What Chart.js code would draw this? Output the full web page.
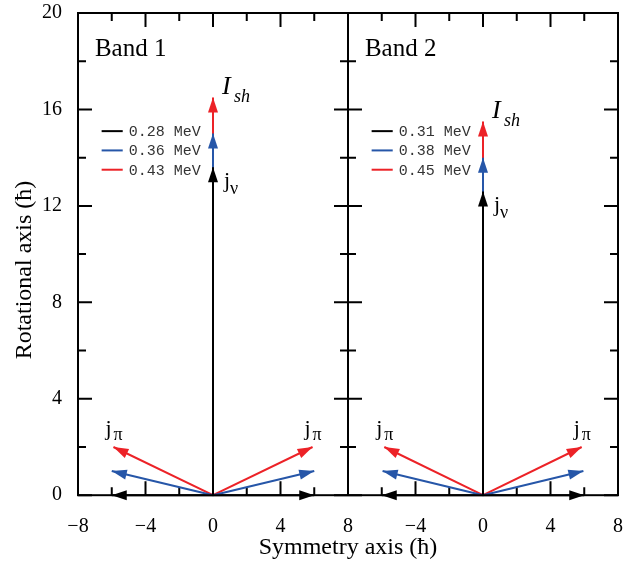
<!DOCTYPE html>
<html>
<head>
<meta charset="utf-8">
<script src="https://cdn.jsdelivr.net/npm/chart.js@4"></script>
<style>
html, body { margin: 0; padding: 0; background: #fff; }
#wrap { width: 638px; height: 565px; }
</style>
</head>
<body>
<div id="wrap"><canvas id="vectors"></canvas></div>
<script>
// values (units of hbar)
const bands = ['Band 1', 'Band 2'];
const panelShift = [0, 16];           // right panel sits on x = 8..24 of the shared axis
const energies1 = ['0.28 MeV', '0.36 MeV', '0.43 MeV'];
const energies2 = ['0.31 MeV', '0.38 MeV', '0.45 MeV'];
const jNu1 = [13.6, 15.0, 16.5];
const jNu2 = [12.6, 14.0, 15.5];
const jPiX1 = [6.0, 6.0, 5.9];
const jPiY1 = [0, 1.0, 2.0];
const jPiX2 = [6.0, 5.95, 5.85];
const jPiY2 = [0, 1.0, 2.0];
const colors = ['#000000', '#2656a8', '#ec2227'];

const serif = "'Liberation Serif', 'Times New Roman', serif";
const energies = [energies1, energies2];
const jNu = [jNu1, jNu2];
const jPiX = [jPiX1, jPiX2];
const jPiY = [jPiY1, jPiY2];

function vector(x0, x1, y1, color, tag) {
    return {
        data: [{ x: x0, y: 0 }, { x: x1, y: y1 }],
        borderColor: color,
        backgroundColor: color,
        borderWidth: 2,
        pointRadius: 0,
        showLine: true,
        clip: false,
        tag: tag
    };
}

const datasets = [];
bands.forEach((band, b) => {
    const s = panelShift[b];
    for (let i = 0; i < 3; i++) {
        datasets.push(vector(s, s, jNu[b][i], colors[i], b + '-nu-' + i));
        datasets.push(vector(s, s - jPiX[b][i], jPiY[b][i], colors[i], b + '-pl-' + i));
        datasets.push(vector(s, s + jPiX[b][i], jPiY[b][i], colors[i], b + '-pr-' + i));
    }
});

function fmt(v) {
    return v < 0 ? '\u2212' + Math.abs(v) : String(v);
}

// arrow heads, drawn per dataset so the stacking order is kept
const arrowPlugin = {
    id: 'arrows',
    afterDatasetDraw(chart, args) {
        const pts = args.meta.data;
        if (pts.length < 2) return;
        const p0 = pts[0], p1 = pts[1];
        const ang = Math.atan2(p1.y - p0.y, p1.x - p0.x);
        const len = 15, half = 5;
        const ctx = chart.ctx;
        ctx.save();
        ctx.fillStyle = chart.data.datasets[args.index].borderColor;
        ctx.translate(p1.x, p1.y);
        ctx.rotate(ang);
        ctx.beginPath();
        ctx.moveTo(0, 0);
        ctx.lineTo(-len, -half);
        ctx.lineTo(-len, half);
        ctx.closePath();
        ctx.fill();
        ctx.restore();
    }
};

// box, divider and inward ticks on every side
const framePlugin = {
    id: 'frame',
    beforeDatasetsDraw(chart) {
        const { ctx, chartArea: a, scales: { x, y } } = chart;
        const mid = x.getPixelForValue(8);
        ctx.save();
        ctx.strokeStyle = '#000';
        ctx.lineWidth = 2;
        ctx.beginPath();
        x.ticks.forEach(t => {
            const px = x.getPixelForValue(t.value);
            const l = t.value % 4 === 0 ? 14 : 8;
            ctx.moveTo(px, a.bottom); ctx.lineTo(px, a.bottom - l);
            ctx.moveTo(px, a.top); ctx.lineTo(px, a.top + l);
        });
        y.ticks.forEach(t => {
            const py = y.getPixelForValue(t.value);
            const l = t.value % 4 === 0 ? 14 : 8;
            ctx.moveTo(a.left, py); ctx.lineTo(a.left + l, py);
            ctx.moveTo(a.right, py); ctx.lineTo(a.right - l, py);
            ctx.moveTo(mid - l, py); ctx.lineTo(mid + l, py);
        });
        ctx.moveTo(mid, a.top); ctx.lineTo(mid, a.bottom);
        ctx.stroke();
        ctx.strokeRect(a.left, a.top, a.width, a.height);
        ctx.restore();
    }
};

// panel labels, vector names, legends and the y title
const labelPlugin = {
    id: 'labels',
    afterDraw(chart) {
        const { ctx, chartArea: a, scales: { x, y } } = chart;
        ctx.save();
        ctx.fillStyle = '#000';
        ctx.textBaseline = 'alphabetic';

        ctx.save();
        ctx.translate(25, 270);
        ctx.rotate(-Math.PI / 2);
        ctx.textAlign = 'center';
        ctx.textBaseline = 'middle';
        ctx.font = '24px ' + serif;
        ctx.fillText('Rotational axis (\u0127)', 0, 0);
        ctx.restore();

        bands.forEach((band, b) => {
            const s = panelShift[b];
            ctx.textAlign = 'left';
            ctx.textBaseline = 'middle';
            ctx.font = '25px ' + serif;
            ctx.fillText(band, x.getPixelForValue(s - 7.0), y.getPixelForValue(18.5));

            ctx.textBaseline = 'alphabetic';
            // I_sh at the top of the red vector
            const tx = x.getPixelForValue(s);
            const tIsh = y.getPixelForValue(jNu[b][2]);
            ctx.font = 'italic 26px ' + serif;
            ctx.fillText('I', tx + 9, tIsh - 3);
            ctx.font = 'italic 18px ' + serif;
            ctx.fillText('sh', tx + 21, tIsh + 5);

            // j_nu at the top of the black vector
            const tNu = y.getPixelForValue(jNu[b][0]);
            ctx.font = '22px ' + serif;
            ctx.fillText('j', tx + 11, tNu + 20);
            ctx.font = '18px ' + serif;
            ctx.fillText('\u03bd', tx + 17, tNu + 27);

            // j_pi above both red vectors
            [-1, 1].forEach(sg => {
                const px = x.getPixelForValue(s + sg * jPiX[b][2]);
                const py = y.getPixelForValue(jPiY[b][2]);
                ctx.font = '22px ' + serif;
                ctx.fillText('j', px - 8, py - 12);
                ctx.font = '18px ' + serif;
                ctx.fillText('\u03c0', px, py - 7);
            });

            // legend
            ctx.font = '15px "Liberation Mono", monospace';
            ctx.textBaseline = 'middle';
            ctx.lineWidth = 2;
            const rows = [15.1, 14.3, 13.5];
            energies[b].forEach((e, i) => {
                const ry = y.getPixelForValue(rows[i]);
                ctx.strokeStyle = colors[i];
                ctx.beginPath();
                ctx.moveTo(x.getPixelForValue(s - 6.6), ry);
                ctx.lineTo(x.getPixelForValue(s - 5.35), ry);
                ctx.stroke();
                ctx.fillStyle = '#333';
                ctx.fillText(e, x.getPixelForValue(s - 5.0), ry + 1);
                ctx.fillStyle = '#000';
            });
        });
        ctx.restore();
    }
};

new Chart(document.getElementById('vectors'), {
    type: 'scatter',
    data: { datasets: datasets },
    options: {
        responsive: true,
        maintainAspectRatio: false,
        animation: false,
        events: [],
        layout: { padding: { left: 26, right: 20, top: 13, bottom: 3 } },
        plugins: {
            legend: { display: false },
            tooltip: { enabled: false }
        },
        scales: {
            x: {
                type: 'linear',
                min: -8,
                max: 24,
                grid: { display: false, drawTicks: false },
                border: { display: false },
                afterFit: scale => { scale.paddingLeft = 0; scale.paddingRight = 0; },
                ticks: {
                    stepSize: 2,
                    autoSkip: false,
                    maxRotation: 0,
                    padding: 20,
                    color: '#000',
                    font: { family: serif, size: 20 },
                    callback: v => v % 4 === 0 ? fmt(v > 8 ? v - 16 : v) : ''
                },
                title: {
                    display: true,
                    text: 'Symmetry axis (\u0127)',
                    color: '#000',
                    font: { family: serif, size: 24 },
                    padding: { top: -26, bottom: 0 }
                }
            },
            y: {
                type: 'linear',
                min: 0,
                max: 20,
                grid: { display: false, drawTicks: false },
                border: { display: false },
                afterFit: scale => { scale.paddingTop = 0; scale.paddingBottom = 0; },
                ticks: {
                    stepSize: 2,
                    autoSkip: false,
                    padding: 16,
                    color: '#000',
                    font: { family: serif, size: 20 },
                    callback: v => v % 4 === 0 ? fmt(v) : ''
                }
            }
        }
    },
    plugins: [framePlugin, arrowPlugin, labelPlugin]
});
</script>
</body>
</html>
